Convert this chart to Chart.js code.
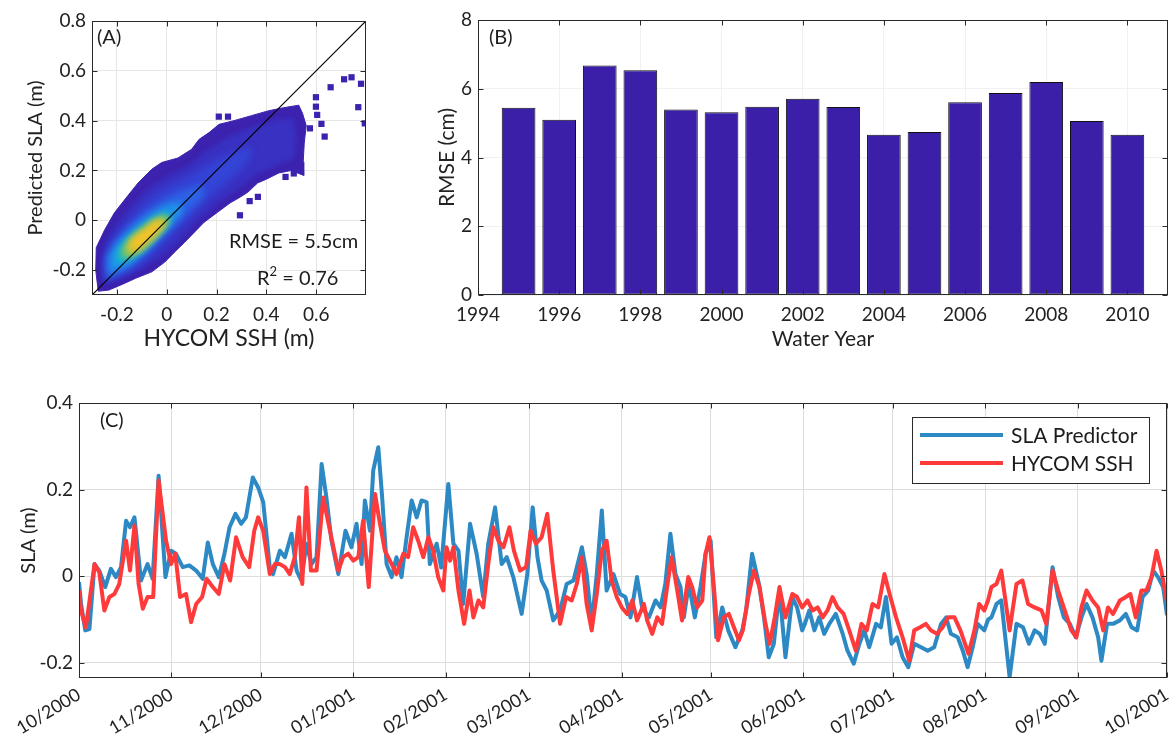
<!DOCTYPE html>
<html>
<head>
<meta charset="utf-8">
<title>SLA predictor figure</title>
<script src="https://cdn.jsdelivr.net/npm/chart.js@4.4.1/dist/chart.umd.min.js"></script>
<style>
html,body{margin:0;padding:0;background:#fff;}
#fig{position:relative;width:1173px;height:742px;overflow:hidden;background:#fff;}
#fig canvas{position:absolute;}
</style>
</head>
<body>
<div id="fig">
<canvas id="cA" width="390" height="355" style="left:0;top:0"></canvas>
<canvas id="cB" width="773" height="355" style="left:400px;top:0"></canvas>
<canvas id="cC" width="1173" height="357" style="left:0;top:385px"></canvas>
</div>
<script>
// ================= DATA =================
// ---- Panel A: density scatter (HYCOM SSH vs predicted SLA), read as nested density regions ----
const axisA = [-0.3, 0.8];
const ticksA = [-0.2, 0, 0.2, 0.4, 0.6];
const ticksAy = [-0.2, 0, 0.2, 0.4, 0.6, 0.8];
const oneToOne = [-0.3, 0.8];
const cloudOuter = [[-0.275,-0.285],[-0.285,-0.2],[-0.283,-0.11],[-0.25,-0.04],[-0.21,0.03],[-0.155,0.1],[-0.115,0.15],[-0.06,0.205],[-0.02,0.232],[0.045,0.25],[0.1,0.285],[0.13,0.325],[0.17,0.352],[0.21,0.385],[0.27,0.4],[0.34,0.42],[0.41,0.44],[0.47,0.452],[0.53,0.462],[0.545,0.43],[0.56,0.38],[0.552,0.31],[0.548,0.235],[0.55,0.18],[0.5,0.2],[0.45,0.19],[0.4,0.165],[0.365,0.15],[0.325,0.112],[0.29,0.09],[0.255,0.07],[0.205,0.033],[0.15,-0.008],[0.112,-0.047],[0.072,-0.088],[0.032,-0.127],[-0.008,-0.168],[-0.06,-0.207],[-0.125,-0.233],[-0.18,-0.258],[-0.232,-0.28]];
const cloudLevel2 = [[-0.25,-0.25],[-0.26,-0.15],[-0.24,-0.08],[-0.19,0.0],[-0.13,0.07],[-0.06,0.14],[0.01,0.18],[0.09,0.22],[0.16,0.28],[0.25,0.335],[0.35,0.375],[0.45,0.405],[0.51,0.405],[0.52,0.33],[0.51,0.25],[0.45,0.225],[0.36,0.185],[0.28,0.125],[0.2,0.065],[0.12,-0.005],[0.05,-0.085],[-0.02,-0.145],[-0.1,-0.195],[-0.18,-0.228]];
const cloudLevel3 = [[-0.245,-0.245],[-0.25,-0.16],[-0.225,-0.09],[-0.18,-0.035],[-0.11,0.045],[-0.04,0.105],[0.04,0.15],[0.12,0.195],[0.2,0.24],[0.28,0.28],[0.34,0.29],[0.33,0.24],[0.26,0.17],[0.18,0.1],[0.1,0.02],[0.03,-0.05],[-0.04,-0.12],[-0.11,-0.18],[-0.19,-0.225]];
const cloudLevel4 = [[-0.24,-0.23],[-0.24,-0.15],[-0.205,-0.085],[-0.15,-0.025],[-0.08,0.035],[0.0,0.085],[0.07,0.12],[0.14,0.14],[0.15,0.1],[0.1,0.05],[0.04,-0.01],[-0.02,-0.07],[-0.08,-0.13],[-0.15,-0.19]];
const cloudLevel5 = [[-0.23,-0.21],[-0.228,-0.14],[-0.19,-0.085],[-0.135,-0.03],[-0.07,0.02],[-0.01,0.055],[0.05,0.07],[0.06,0.035],[0.02,-0.015],[-0.035,-0.07],[-0.09,-0.125],[-0.16,-0.18]];
const cloudLevel6 = [[-0.2,-0.17],[-0.195,-0.12],[-0.16,-0.075],[-0.11,-0.035],[-0.055,0.005],[-0.005,0.03],[0.015,0.01],[-0.015,-0.035],[-0.055,-0.075],[-0.105,-0.125],[-0.155,-0.16]];
const cloudLevel7 = [[-0.18,-0.15],[-0.175,-0.11],[-0.14,-0.07],[-0.095,-0.035],[-0.05,0.0],[-0.005,0.02],[0.01,0.0],[-0.02,-0.035],[-0.055,-0.07],[-0.1,-0.115],[-0.145,-0.14]];
const cloudLevel8 = [[-0.16,-0.14],[-0.16,-0.1],[-0.13,-0.065],[-0.09,-0.035],[-0.05,-0.005],[-0.01,0.01],[0.0,-0.01],[-0.03,-0.05],[-0.07,-0.09],[-0.12,-0.125]];
const cloudLevel9 = [[-0.14,-0.12],[-0.145,-0.085],[-0.115,-0.06],[-0.08,-0.035],[-0.05,-0.01],[-0.025,0.0],[-0.02,-0.02],[-0.045,-0.05],[-0.08,-0.08],[-0.11,-0.11]];
const outlierX = [0.209,0.246,0.599,0.599,0.604,0.621,0.634,0.575,0.658,0.712,0.742,0.78,0.769,0.795,0.51,0.477,0.366,0.333,0.294];
const outlierY = [0.416,0.416,0.494,0.456,0.423,0.387,0.336,0.369,0.534,0.566,0.574,0.548,0.454,0.389,0.188,0.174,0.094,0.077,0.02];

// ---- Panel B: RMSE by water year ----
const waterYears = [1995,1996,1997,1998,1999,2000,2001,2002,2003,2004,2005,2006,2007,2008,2009,2010];
const rmseCm = [5.45,5.10,6.68,6.54,5.40,5.32,5.48,5.71,5.47,4.66,4.74,5.61,5.88,6.20,5.06,4.66];
const yearTicks = [1994,1996,1998,2000,2002,2004,2006,2008,2010];
const yearRange = [1994, 2011];
const rmseTicks = [0,2,4,6,8];

// ---- Panel C: daily SLA, WY2001 (day 0 = 1 Oct 2000) ----
const monthTickDays = [0,31,61,92,123,151,182,212,243,273,304,335,365];
const monthTickLabels = ['10/2000','11/2000','12/2000','01/2001','02/2001','03/2001','04/2001','05/2001','06/2001','07/2001','08/2001','09/2001','10/2001'];
const slaTicks = [-0.2, 0, 0.2, 0.4];
const slaRange = [-0.235, 0.4];
const slaDays = [0,0.7,2.1,3.5,5.2,6.8,8.8,10.7,12.4,14.1,15.8,17.1,18.6,20.8,23.0,24.7,26.7,29.0,30.9,32.5,34.8,37.0,39.3,41.5,43.2,44.9,46.9,48.8,50.5,52.5,54.4,56.0,58.3,
60.1,61.8,64.0,65.1,67.4,69.1,71.3,73.0,74.6,76.3,78.0,79.7,81.4,83.0,84.7,87.0,89.4,91.4,93.1,94.8,95.9,97.6,98.7,100.4,101.7,103.2,104.9,106.5,108.2,109.9,111.6,113.3,114.9,116.6,117.7,120.0,
121.5,123.9,125.6,127.3,128.9,131.2,133.4,135.6,137.3,139.6,141.8,143.5,145.7,148.5,150.4,152.2,153.8,155.2,156.9,159.1,161.4,163.6,165.9,168.7,170.3,172.0,173.7,175.4,177.0,179.3,181.5,
183.3,185.0,187.2,188.9,191.2,193.4,195.1,196.7,198.4,200.1,201.8,202.9,204.6,206.6,208.5,210.2,211.9,213.8,215.8,217.8,220.2,222.5,223.8,225.8,228.1,229.8,231.4,233.1,235.0,237.0,239.3,240.9,242.6,
243.5,245.0,246.7,248.3,250.0,251.7,253.9,256.2,257.8,259.9,261.8,263.4,265.1,267.4,269.0,270.7,272.6,274.4,276.3,278.2,280.2,282.5,284.7,286.9,289.2,290.9,292.5,294.8,296.5,298.1,299.8,301.5,303.7,
305.0,306.1,307.8,309.4,312.2,314.5,316.7,318.7,320.6,322.3,324.0,326.6,328.5,330.4,332.4,334.4,336.3,338.0,340.0,341.9,343.0,344.9,346.9,349.2,351.2,353.1,355.0,356.8,358.7,360.4,362.0,363.7,365.0];
const slaVals = [-0.014,-0.064,-0.125,-0.122,0.028,0.013,-0.025,0.017,-0.002,0.021,0.128,0.113,0.136,-0.010,0.028,-0.006,0.232,-0.002,0.059,0.052,0.021,0.025,0.013,-0.006,0.078,0.028,-0.002,0.052,0.113,0.144,0.121,0.136,0.228,
0.205,0.171,0.021,0.005,0.059,0.044,0.098,0.013,-0.010,0.075,0.028,0.044,0.259,0.182,0.082,0.005,0.105,0.067,0.121,0.028,0.175,0.105,0.244,0.298,0.182,0.028,-0.002,0.044,-0.002,0.090,0.175,0.136,0.175,0.171,0.028,0.075,
0.020,0.213,0.075,0.059,-0.064,0.121,0.052,-0.048,0.075,0.159,0.028,0.044,-0.002,-0.087,0.005,0.159,0.044,-0.010,-0.033,-0.102,-0.079,-0.018,-0.010,0.067,0.005,-0.110,0.005,0.152,-0.033,0.005,-0.041,
-0.048,-0.095,-0.002,-0.072,-0.095,-0.056,-0.072,-0.018,0.098,0.005,-0.025,-0.095,-0.018,-0.095,-0.025,0.052,0.082,-0.141,-0.072,-0.125,-0.164,-0.125,-0.079,0.052,-0.018,-0.095,-0.187,-0.156,-0.033,-0.187,-0.048,-0.072,-0.125,
-0.110,-0.079,-0.125,-0.095,-0.133,-0.110,-0.087,-0.133,-0.172,-0.202,-0.156,-0.125,-0.164,-0.110,-0.118,-0.048,-0.156,-0.141,-0.187,-0.210,-0.156,-0.164,-0.172,-0.164,-0.110,-0.095,-0.133,-0.141,-0.172,-0.210,-0.164,-0.110,-0.125,
-0.100,-0.095,-0.064,-0.056,-0.233,-0.110,-0.118,-0.156,-0.125,-0.133,-0.156,0.021,-0.048,-0.095,-0.110,-0.141,-0.095,-0.064,-0.095,-0.141,-0.195,-0.110,-0.110,-0.102,-0.087,-0.118,-0.125,-0.048,-0.033,0.013,-0.002,-0.025,-0.090];
const sshDays = [0,0.7,2.3,3.7,5.2,6.8,8.5,10.2,11.9,13.5,15.8,17.1,18.6,20.0,21.4,23.0,24.9,26.7,29.2,30.9,32.3,33.9,35.9,37.6,39.3,41.3,42.8,44.9,46.9,48.8,50.7,52.7,54.9,57.1,58.8,
60.1,61.8,64.0,65.7,67.4,69.1,70.7,72.4,73.8,74.9,76.3,77.8,79.7,81.9,84.2,87.0,88.6,90.3,92.0,93.7,95.3,97.2,99.3,100.6,102.6,104.9,106.5,108.8,110.4,112.1,113.8,115.5,117.2,118.8,120.5,
122.2,123.3,124.5,125.6,127.3,129.2,131.0,132.3,134.0,135.6,137.3,139.0,140.7,142.4,144.4,145.9,148.0,150.0,151.5,153.3,155.2,157.1,159.1,161.4,163.4,165.3,167.0,168.7,170.3,172.0,173.7,175.4,177.0,178.7,180.4,182.1,
183.9,185.6,187.2,189.5,190.6,192.3,194.0,195.6,197.3,198.8,200.7,202.3,204.4,205.7,207.4,209.1,210.2,211.5,213.0,214.4,216.3,218.0,219.7,221.4,222.7,224.5,226.4,228.3,230.1,231.7,233.4,235.0,237.0,239.3,240.9,242.6,
244.4,246.1,247.8,249.5,251.1,252.8,254.5,256.5,258.4,260.6,262.5,264.3,266.2,268.1,270.2,272.2,274.1,276.3,278.5,280.2,282.2,284.1,285.8,287.8,289.7,291.6,293.7,295.7,298.4,300.4,302.0,303.7,
305.0,306.1,307.8,309.4,312.2,314.5,316.5,318.4,320.6,322.9,324.5,326.6,328.5,330.7,332.9,334.6,336.3,338.0,340.0,341.9,343.6,345.2,346.9,349.2,351.2,352.7,354.5,356.4,358.1,359.8,361.5,363.1,365.0];
const sshVals = [-0.033,-0.080,-0.118,-0.048,0.028,0.009,-0.079,-0.048,-0.041,-0.018,0.082,0.013,0.117,-0.018,-0.075,-0.048,-0.048,0.221,0.082,0.028,0.052,-0.048,-0.041,-0.106,-0.064,-0.048,-0.006,-0.025,-0.041,0.028,-0.010,0.090,0.044,0.021,0.105,
0.136,0.105,0.005,0.028,0.028,0.021,0.005,0.044,0.136,-0.018,0.205,0.013,0.013,0.182,0.105,0.013,0.044,0.052,0.036,0.044,0.128,-0.025,0.190,0.136,0.059,0.028,0.005,0.052,0.044,0.113,0.082,0.044,0.090,0.059,-0.002,
-0.033,0.067,0.036,0.067,-0.033,-0.110,-0.033,-0.095,-0.056,-0.072,0.028,0.113,0.082,0.067,0.113,0.059,0.013,0.021,0.105,0.075,0.090,0.144,0.013,-0.110,-0.048,-0.056,-0.018,0.044,-0.064,-0.125,-0.041,0.059,0.082,-0.010,-0.048,-0.072,
-0.087,-0.056,-0.102,-0.064,-0.102,-0.133,-0.095,-0.110,-0.025,0.044,-0.033,-0.102,-0.002,-0.025,-0.072,-0.056,0.052,0.090,-0.025,-0.148,-0.095,-0.087,-0.118,-0.148,-0.125,-0.048,0.013,-0.025,-0.102,-0.156,-0.095,-0.025,-0.095,-0.041,-0.048,-0.072,
-0.056,-0.079,-0.072,-0.095,-0.079,-0.048,-0.072,-0.087,-0.125,-0.172,-0.110,-0.125,-0.064,-0.072,0.005,-0.048,-0.095,-0.141,-0.195,-0.125,-0.118,-0.110,-0.125,-0.133,-0.118,-0.095,-0.095,-0.125,-0.179,-0.125,-0.064,-0.079,
-0.055,-0.025,-0.018,0.013,-0.125,-0.018,-0.010,-0.064,-0.072,-0.079,-0.110,0.013,-0.033,-0.079,-0.125,-0.141,-0.072,-0.033,-0.056,-0.072,-0.125,-0.072,-0.087,-0.056,-0.048,-0.041,-0.095,-0.033,-0.033,-0.002,0.059,0.013,-0.060];

// ================= SETUP =================
const FONT = 'Lato, "Open Sans", "DejaVu Sans", sans-serif';
Chart.defaults.font.family = FONT;
Chart.defaults.font.size = 18;
Chart.defaults.color = '#222222';
Chart.defaults.animation = false;

// blur for the inner density layers (must run before the filler plugin)
const layerBlur = {
  id: 'layerBlur',
  beforeDatasetDraw(chart, args) {
    const b = chart.data.datasets[args.index].blurPx;
    if (b) { chart.ctx.save(); chart.ctx.filter = 'blur(' + b + 'px)'; }
  },
  afterDatasetDraw(chart, args) {
    if (chart.data.datasets[args.index].blurPx) chart.ctx.restore();
  }
};
try {
  const filler = Chart.registry.getPlugin('filler');
  Chart.unregister(filler);
  Chart.register(layerBlur);
  Chart.register(filler);
} catch (e) { try { Chart.register(layerBlur); } catch (e2) {} }

// axes box with inward tick marks on all four sides
const frame = {
  id: 'frame',
  afterDatasetsDraw(chart, args, opts) {
    const {ctx, chartArea: a, scales} = chart;
    const L = opts.len || 5;
    ctx.save();
    ctx.strokeStyle = '#2a2a2a';
    ctx.lineWidth = 1;
    const l = Math.round(a.left) + 0.5, t = Math.round(a.top) + 0.5;
    const r = Math.round(a.right) - 0.5, b = Math.round(a.bottom) - 0.5;
    ctx.strokeRect(l, t, r - l, b - t);
    ctx.beginPath();
    scales.x.ticks.forEach(tk => {
      const px = Math.round(scales.x.getPixelForValue(tk.value)) + 0.5;
      ctx.moveTo(px, b); ctx.lineTo(px, b - L);
      ctx.moveTo(px, t); ctx.lineTo(px, t + L);
    });
    scales.y.ticks.forEach(tk => {
      const py = Math.round(scales.y.getPixelForValue(tk.value)) + 0.5;
      ctx.moveTo(l, py); ctx.lineTo(l + L, py);
      ctx.moveTo(r, py); ctx.lineTo(r - L, py);
    });
    ctx.stroke();
    ctx.restore();
  }
};

// text notes inside a panel (panel letters, statistics)
const notes = {
  id: 'notes',
  afterDraw(chart, args, opts) {
    const {ctx, chartArea: a} = chart;
    (opts.items || []).forEach(it => {
      ctx.save();
      ctx.fillStyle = '#1c1c1c';
      ctx.textBaseline = 'alphabetic';
      ctx.textAlign = 'left';
      let x = a.left + it.dx;
      const y = a.top + it.dy;
      it.parts.forEach(p => {
        const size = p.size || it.size || 20;
        ctx.font = size + 'px ' + FONT;
        ctx.fillText(p.t, x, y - (p.rise || 0));
        x += ctx.measureText(p.t).width;
      });
      ctx.restore();
    });
  }
};

// in-plot legend box for panel C
const boxLegend = {
  id: 'boxLegend',
  afterDraw(chart, args, opts) {
    const {ctx, chartArea: a} = chart;
    const w = opts.width, h = opts.height;
    const left = a.right - opts.right - w, top = a.top + opts.top;
    ctx.save();
    ctx.fillStyle = '#ffffff';
    ctx.fillRect(left, top, w, h);
    ctx.strokeStyle = '#2a2a2a';
    ctx.lineWidth = 1;
    ctx.strokeRect(Math.round(left) + 0.5, Math.round(top) + 0.5, Math.round(w), Math.round(h));
    ctx.font = opts.fontSize + 'px ' + FONT;
    ctx.textBaseline = 'middle';
    ctx.textAlign = 'left';
    chart.data.datasets.forEach((ds, i) => {
      const y = top + opts.rowTop + i * opts.rowGap;
      ctx.strokeStyle = ds.borderColor;
      ctx.lineWidth = ds.borderWidth;
      ctx.beginPath();
      ctx.moveTo(left + opts.lineStart, y);
      ctx.lineTo(left + opts.lineStart + opts.lineLen, y);
      ctx.stroke();
      ctx.fillStyle = '#1c1c1c';
      ctx.fillText(ds.label, left + opts.textStart, y + 1);
    });
    ctx.restore();
  }
};

const fixedTicks = arr => scale => { scale.ticks = arr.map(v => ({value: v})); };
const numFmt = v => { const r = Math.round(v * 10) / 10; return r === 0 ? '0' : String(r); };
const pts = poly => poly.concat([poly[0]]).map(p => ({x: p[0], y: p[1]}));
const fitX = h => s => { s.height = h; s.paddingLeft = 0; s.paddingRight = 0; };
const fitY = w => s => { s.width = w; s.paddingTop = 0; s.paddingBottom = 0; };

// ================= PANEL A =================
const cloudLayers = [cloudOuter, cloudLevel2, cloudLevel3, cloudLevel4, cloudLevel5, cloudLevel6, cloudLevel7, cloudLevel8, cloudLevel9];
const cloudColors = ['#3c22ae', '#3931c2', '#3444d6', '#2d64e6', '#1f96ea', '#17bbca', '#6cc46c', '#c2c63a', '#f7c12a'];
const cloudBlur = [0, 2, 3, 3, 3, 3, 3, 3, 3];
const dsA = [];
dsA.push({label: '1:1', data: oneToOne.map(v => ({x: v, y: v})), showLine: true, borderColor: '#000000', borderWidth: 1.2, pointRadius: 0, order: 0});
dsA.push({label: 'outliers', data: outlierX.map((x, i) => ({x: x, y: outlierY[i]})), pointStyle: 'rect', pointRadius: 4.4, backgroundColor: '#3c22ae', borderColor: '#3c22ae', borderWidth: 0, showLine: false, order: 1});
cloudLayers.forEach((poly, i) => {
  dsA.push({label: 'density ' + (i + 1), data: pts(poly), showLine: true, fill: 'shape', tension: 0,
    backgroundColor: cloudColors[i], borderColor: cloudColors[i], borderWidth: 1, pointRadius: 0,
    blurPx: cloudBlur[i], order: 20 - i});
});

new Chart(document.getElementById('cA'), {
  type: 'scatter',
  data: {datasets: dsA},
  options: {
    responsive: false, devicePixelRatio: 1,
    layout: {padding: {top: 21, right: 24, left: 0, bottom: 0}},
    plugins: {legend: {display: false}, tooltip: {enabled: false},
      notes: {items: [
        {dx: 5, dy: 23, parts: [{t: '(A)'}]},
        {dx: 137, dy: 227, parts: [{t: 'RMSE = 5.5cm'}]},
        {dx: 165, dy: 264, parts: [{t: 'R'}, {t: '2', size: 13, rise: 9}, {t: ' = 0.76'}]}
      ]}},
    scales: {
      x: {type: 'linear', min: axisA[0], max: axisA[1], afterBuildTicks: fixedTicks(ticksA),
        afterFit: fitX(60),
        grid: {color: '#e6e6e6', drawTicks: false}, border: {display: false},
        ticks: {padding: 8, callback: numFmt, font: {size: 19}},
        title: {display: true, text: 'HYCOM SSH (m)', font: {size: 23}, padding: {top: 0, bottom: 3}}},
      y: {type: 'linear', min: axisA[0], max: axisA[1], afterBuildTicks: fixedTicks(ticksAy),
        afterFit: fitY(92),
        grid: {color: '#e6e6e6', drawTicks: false}, border: {display: false},
        ticks: {padding: 6, callback: numFmt, font: {size: 19}},
        title: {display: true, text: 'Predicted SLA (m)', font: {size: 20}, padding: {top: 24, bottom: 0}}}
    }
  },
  plugins: [frame, notes]
});

// ================= PANEL B =================
new Chart(document.getElementById('cB'), {
  type: 'bar',
  data: {datasets: [{label: 'RMSE', data: waterYears.map((y, i) => ({x: y, y: rmseCm[i]})),
    backgroundColor: '#3b1fa8', borderColor: '#111111', borderWidth: 1, borderSkipped: false,
    categoryPercentage: 1, barPercentage: 0.83}]},
  options: {
    responsive: false, devicePixelRatio: 1,
    layout: {padding: {top: 20, right: 5, left: 0, bottom: 0}},
    plugins: {legend: {display: false}, tooltip: {enabled: false},
      notes: {items: [{dx: 11, dy: 24, parts: [{t: '(B)'}]}]}},
    scales: {
      x: {type: 'linear', min: yearRange[0], max: yearRange[1], offset: false, afterBuildTicks: fixedTicks(yearTicks),
        afterFit: fitX(60),
        grid: {color: '#f1f1f1', drawTicks: false, offset: false}, border: {display: false},
        ticks: {padding: 8, autoSkip: false, maxRotation: 0, callback: v => String(v), font: {size: 19}},
        title: {display: true, text: 'Water Year', font: {size: 21}, padding: {top: 0, bottom: 3}}},
      y: {type: 'linear', min: 0, max: 8, afterBuildTicks: fixedTicks(rmseTicks),
        afterFit: fitY(78),
        grid: {color: '#f1f1f1', drawTicks: false}, border: {display: false},
        ticks: {padding: 6, font: {size: 19}},
        title: {display: true, text: 'RMSE (cm)', font: {size: 21}, padding: {top: 35, bottom: 0}}}
    }
  },
  plugins: [frame, notes]
});

// ================= PANEL C =================
new Chart(document.getElementById('cC'), {
  type: 'line',
  data: {datasets: [
    {label: 'SLA Predictor', data: slaDays.map((d, i) => ({x: d, y: slaVals[i]})), borderColor: '#2c89c4', borderWidth: 4, pointRadius: 0, tension: 0, order: 1, borderJoinStyle: 'round'},
    {label: 'HYCOM SSH', data: sshDays.map((d, i) => ({x: d, y: sshVals[i]})), borderColor: '#ff3a3a', borderWidth: 4, pointRadius: 0, tension: 0, order: 0, borderJoinStyle: 'round'}
  ]},
  options: {
    responsive: false, devicePixelRatio: 1,
    layout: {padding: {top: 18, right: 6, left: 0, bottom: 0}},
    plugins: {legend: {display: false}, tooltip: {enabled: false},
      notes: {items: [{dx: 21, dy: 24, parts: [{t: '(C)'}]}]},
      boxLegend: {width: 237, height: 66, right: 18, top: 14, rowTop: 18, rowGap: 28, lineStart: 8, lineLen: 83, textStart: 99, fontSize: 21}},
    scales: {
      x: {type: 'linear', min: 0, max: 365, afterBuildTicks: fixedTicks(monthTickDays),
        afterFit: fitX(64),
        grid: {color: '#dddddd', drawTicks: false}, border: {display: false},
        ticks: {padding: 6, autoSkip: false, minRotation: 31, maxRotation: 31, font: {size: 18},
          callback: v => { const k = monthTickDays.indexOf(v); return k >= 0 ? monthTickLabels[k] : ''; }}},
      y: {type: 'linear', min: slaRange[0], max: slaRange[1], afterBuildTicks: fixedTicks(slaTicks),
        afterFit: fitY(79),
        grid: {color: '#dddddd', drawTicks: false}, border: {display: false},
        ticks: {padding: 6, callback: numFmt, font: {size: 19}},
        title: {display: true, text: 'SLA (m)', font: {size: 20}, padding: {top: 17, bottom: 0}}}
    }
  },
  plugins: [frame, notes, boxLegend]
});
</script>
</body>
</html>
